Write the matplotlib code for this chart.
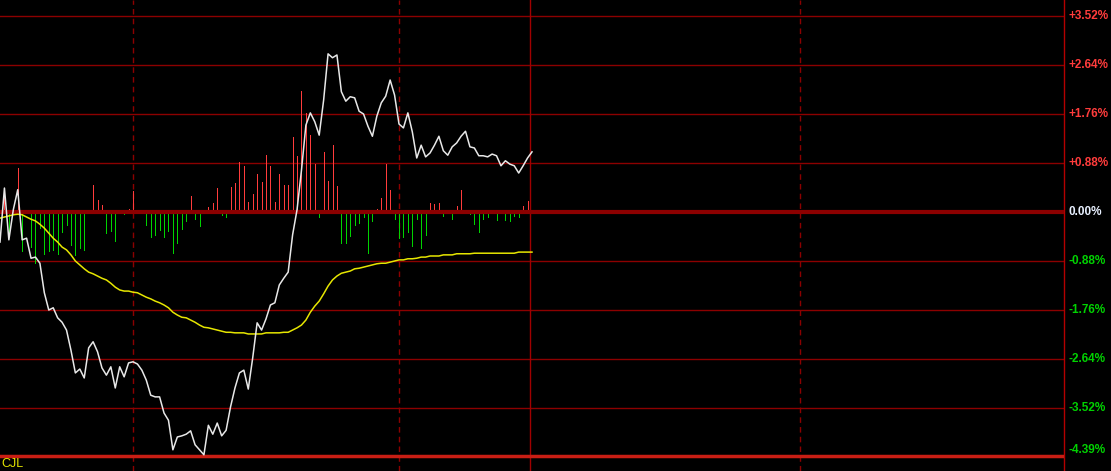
import matplotlib
matplotlib.use("Agg")
import matplotlib.pyplot as plt
import matplotlib.transforms as mtransforms

# minute index, 0..120 (morning session of a 240 minute day)
minutes = list(range(121))

# price change vs. previous close, %
price = [-0.54, 0.43, -0.50, 0.04, 0.40, -0.50, -0.47, -0.83, -0.81, -0.92,
         -1.45, -1.76, -1.72, -1.90, -1.98, -2.12, -2.48, -2.89, -2.82, -2.98,
         -2.44, -2.33, -2.51, -2.80, -2.93, -2.78, -3.16, -2.78, -2.96, -2.71,
         -2.69, -2.73, -2.84, -3.02, -3.29, -3.32, -3.32, -3.61, -3.74, -4.27,
         -4.04, -4.02, -3.99, -3.93, -4.18, -4.27, -4.36, -3.83, -3.99, -3.79,
         -4.02, -3.92, -3.50, -3.16, -2.89, -2.84, -3.18, -2.62, -1.99, -2.12,
         -1.92, -1.67, -1.63, -1.31, -1.19, -1.08, -0.41, 0.04, 0.75, 1.56,
         1.78, 1.62, 1.38, 2.01, 2.84, 2.77, 2.82, 2.16, 1.99, 2.07,
         2.05, 1.81, 1.76, 1.54, 1.36, 1.72, 1.96, 2.08, 2.37, 2.10,
         1.58, 1.51, 1.78, 1.44, 0.97, 1.20, 0.99, 1.06, 1.20, 1.36,
         1.10, 1.02, 1.17, 1.24, 1.36, 1.45, 1.17, 1.15, 1.01, 1.01,
         0.99, 1.04, 1.01, 0.83, 0.92, 0.86, 0.83, 0.70, 0.83, 0.97,
         1.08]

# average price line, %
avg = [-0.11, -0.09, -0.07, -0.05, -0.04, -0.05, -0.09, -0.13, -0.16, -0.22,
       -0.29, -0.38, -0.47, -0.54, -0.63, -0.68, -0.77, -0.88, -0.95, -1.02,
       -1.08, -1.11, -1.15, -1.19, -1.22, -1.28, -1.35, -1.40, -1.42, -1.42,
       -1.44, -1.45, -1.49, -1.53, -1.56, -1.60, -1.63, -1.67, -1.72, -1.80,
       -1.85, -1.89, -1.90, -1.94, -1.98, -2.03, -2.07, -2.08, -2.10, -2.12,
       -2.14, -2.16, -2.16, -2.17, -2.17, -2.17, -2.19, -2.19, -2.19, -2.19,
       -2.17, -2.17, -2.17, -2.17, -2.16, -2.16, -2.12, -2.08, -2.03, -1.94,
       -1.80, -1.69, -1.60, -1.47, -1.33, -1.22, -1.15, -1.10, -1.08, -1.06,
       -1.02, -1.01, -0.99, -0.97, -0.95, -0.93, -0.92, -0.92, -0.90, -0.88,
       -0.86, -0.86, -0.84, -0.84, -0.83, -0.81, -0.81, -0.79, -0.79, -0.79,
       -0.77, -0.77, -0.77, -0.75, -0.75, -0.75, -0.75, -0.74, -0.74, -0.74,
       -0.74, -0.74, -0.74, -0.74, -0.74, -0.74, -0.74, -0.72, -0.72, -0.72,
       -0.72]

# buy/sell strength bars (raw units)
force = [0, 14, -21, 0, 44, -39, 2, -35, -51, -16,
         -42, -39, -38, -42, -20, -13, -33, -43, -36, -38,
         2, 27, 12, 7, -21, -19, -29, 2, -2, 3,
         21, 0, 2, -13, -25, -23, -18, -25, -19, -41,
         -31, -17, -9, 16, -7, -14, 2, 5, 9, 24,
         -3, -5, 25, 29, 50, 46, 10, 18, 38, 30,
         57, 46, 10, 38, 27, 27, 75, 56, 121, 99,
         77, 48, -5, 60, 31, 67, 26, -31, -31, -24,
         -13, -11, -5, -41, -9, 3, 14, 48, 22, -7,
         -26, -25, -20, -34, -7, -36, -23, 9, 8, 9,
         -4, 2, -7, 6, 22, 1, -2, -12, -20, -7,
         -5, 1, -8, -1, -8, -9, -4, -5, 6, 11,
         0]
force_scale = 0.018

levels = [3.52, 2.64, 1.76, 0.88, 0.0, -0.88, -1.76, -2.64, -3.52, -4.39]
labels = ['+3.52%', '+2.64%', '+1.76%', '+0.88%', '0.00%',
          '-0.88%', '-1.76%', '-2.64%', '-3.52%', '-4.39%']

RED = '#ff3c3c'
GREEN = '#00d200'
GRID = '#8c0000'

fig = plt.figure(figsize=(11.11, 4.71), dpi=100, facecolor='black')
ax = fig.add_axes([0, 0, 1064 / 1111, 1])
ax.set_facecolor('black')
ax.set_xlim(0, 240)
ax.set_ylim(-4.651, 3.807)
for s in ax.spines.values():
    s.set_visible(False)
ax.spines['right'].set_visible(True)
ax.spines['right'].set_color('#b40000')
ax.spines['right'].set_linewidth(1)
ax.set_xticks([])
ax.set_yticks([])

# grid
for lv in levels:
    if lv == 0:
        ax.axhline(lv, color='#8c0000', lw=3, zorder=3)
    elif lv == levels[-1]:
        ax.axhline(lv, color='#c81e14', lw=2.5, zorder=3)
    else:
        ax.axhline(lv, color=GRID, lw=1, zorder=1)
for xv in [30, 90, 180.5]:
    ax.axvline(xv, color=GRID, lw=1, ls=(0, (4, 3)), zorder=1)
ax.axvline(119.6, color='#a00000', lw=1, zorder=1)

# bars
for m, f in zip(minutes, force):
    if f == 0:
        continue
    ax.vlines(m, 0, f * force_scale, color=RED if f > 0 else GREEN,
              lw=0.6, antialiased=False, zorder=2)

ax.plot(minutes, avg, color='#e6e600', lw=1.1, zorder=4)
ax.plot(minutes, price, color='#e8e8e8', lw=1.1, zorder=5)

trans = mtransforms.blended_transform_factory(ax.transAxes, ax.transData)
for lv, lb in zip(levels, labels):
    if lv > 0:
        c = RED
    elif lv < 0:
        c = GREEN
    else:
        c = '#e8f0ff'
    va = 'bottom' if lv == levels[-1] else 'center'
    ax.text(1.0045, lv, lb, transform=trans, color=c, fontsize=8.5,
            fontweight='bold', family='Liberation Sans', va=va, ha='left',
            clip_on=False)

fig.text(0.001, 0.003, 'CJL', color='#e6e600', fontsize=9,
         family='Liberation Sans', ha='left', va='bottom')

fig.savefig('out.png', dpi=100, facecolor='black')
